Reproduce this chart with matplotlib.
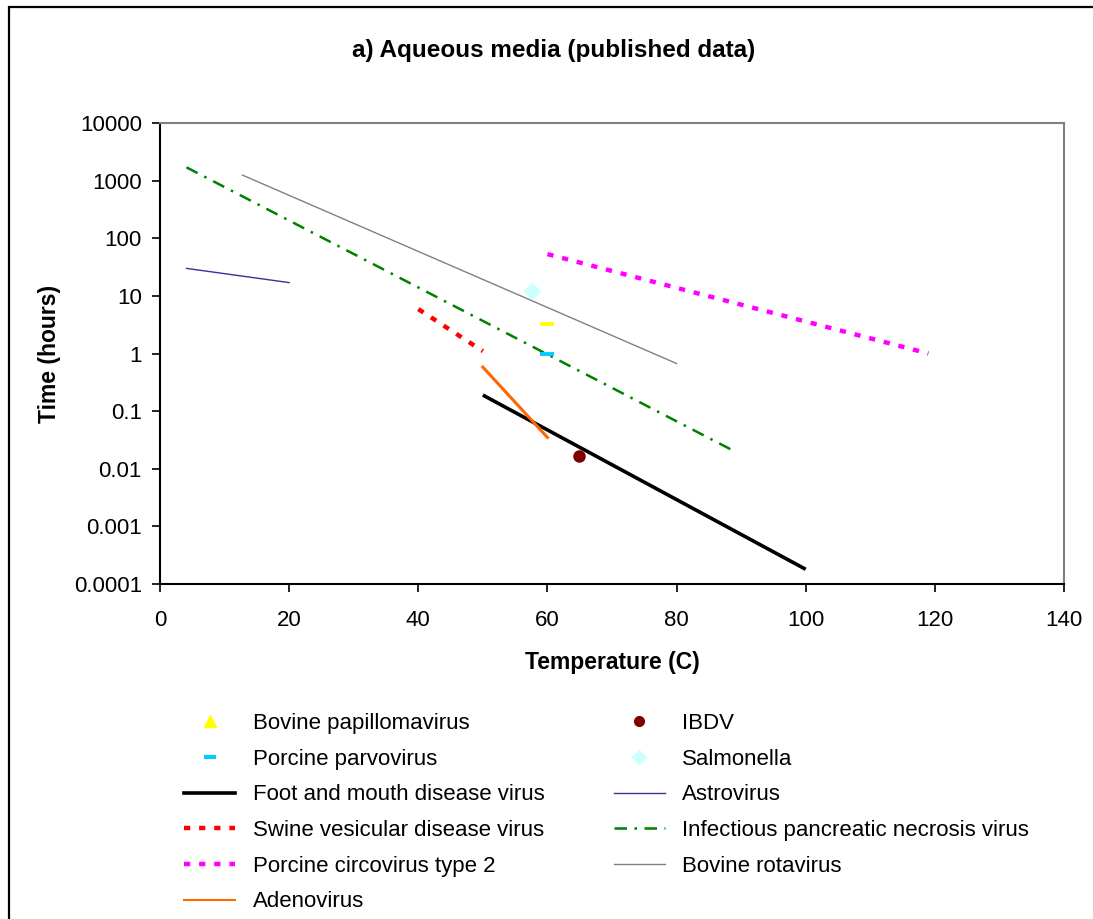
import matplotlib
matplotlib.use("Agg")
import matplotlib.pyplot as plt
from matplotlib.lines import Line2D
from matplotlib.patches import Rectangle
from matplotlib.ticker import FixedLocator, FixedFormatter, NullLocator

plt.rcParams['font.family'] = ['Liberation Sans', 'DejaVu Sans']

# ---- data (temperature C, time hours) ----
fmdv_t = [50, 100]
fmdv_h = [0.19, 0.00018]
astro_t = [4.1, 20]
astro_h = [30, 17]
svdv_t = [40, 50]
svdv_h = [5.9, 1.1]
ipnv_t = [4.1, 89]
ipnv_h = [1700, 0.020]
pcv2_t = [60, 119]
pcv2_h = [53, 1.0]
brv_t = [12.75, 80]
brv_h = [1250, 0.67]
adeno_t = [50, 60]
adeno_h = [0.58, 0.035]
bpv_t = [60]
bpv_h = [3.3]
ppv_t = [60]
ppv_h = [1.0]
salm_t = [57.6]
salm_h = [12.1]
ibdv_t = [64.9]
ibdv_h = [0.0166]

yticks = [0.0001, 0.001, 0.01, 0.1, 1, 10, 100, 1000, 10000]
ytick_labels = ['0.0001', '0.001', '0.01', '0.1', '1', '10', '100', '1000', '10000']
xticks = [0, 20, 40, 60, 80, 100, 120, 140]

FS = 16

fig = plt.figure(figsize=(10.93, 9.19), dpi=100)
ax = fig.add_axes([160/1093, 1-584/919, (1064-160)/1093, (584-123)/919])

c_fmdv, c_astro, c_svdv = 'black', '#333399', '#FF0000'
c_ipnv, c_pcv2, c_brv, c_adeno = '#008000', '#FF00FF', '#808080', '#FF6600'
c_bpv, c_ppv, c_salm, c_ibdv = '#FFFF00', '#00CCFF', '#CCFFFF', '#800000'

ax.plot(fmdv_t, fmdv_h, color=c_fmdv, lw=2.6, solid_capstyle='butt')
ax.plot(astro_t, astro_h, color=c_astro, lw=1.0)
ax.plot(svdv_t, svdv_h, color=c_svdv, lw=3.2, dashes=(1.4, 2.0))
ax.plot(pcv2_t, pcv2_h, color=c_pcv2, lw=3.2, dashes=(1.4, 2.0))
ax.plot(ipnv_t, ipnv_h, color=c_ipnv, lw=1.8, dashes=(5, 3, 1, 3))
ax.plot(brv_t, brv_h, color=c_brv, lw=1.0)
ax.plot(adeno_t, adeno_h, color=c_adeno, lw=2.2)
ax.plot(bpv_t, bpv_h, linestyle='none', marker='_', ms=10, mew=2.8, color=c_bpv)
ax.plot(ppv_t, ppv_h, linestyle='none', marker='_', ms=10, mew=2.8, color=c_ppv)
ax.plot(salm_t, salm_h, linestyle='none', marker='D', ms=8, color=c_salm, mec=c_salm)
ax.plot(ibdv_t, ibdv_h, linestyle='none', marker='o', ms=8, color=c_ibdv, mec=c_ibdv)

ax.set_yscale('log')
ax.set_ylim(0.0001, 10000)
ax.set_xlim(0, 140)
ax.yaxis.set_major_locator(FixedLocator(yticks))
ax.yaxis.set_major_formatter(FixedFormatter(ytick_labels))
ax.yaxis.set_minor_locator(NullLocator())
ax.set_xticks(xticks)
ax.tick_params(axis='both', labelsize=FS, direction='out', length=6, width=1.2)
ax.tick_params(axis='x', pad=13)
ax.tick_params(axis='y', pad=7)
for s in ['top', 'right']:
    ax.spines[s].set_color('#808080')
    ax.spines[s].set_linewidth(1.5)
for s in ['left', 'bottom']:
    ax.spines[s].set_linewidth(1.5)

ax.set_xlabel('Temperature (C)', fontsize=16.5, fontweight='bold', labelpad=14)
ax.set_ylabel('Time (hours)', fontsize=16.5, fontweight='bold', labelpad=9)
fig.text(554/1093, 1-50/919, 'a) Aqueous media (published data)', fontsize=17.5, fontweight='bold',
         ha='center', va='center')

handles = [
    Line2D([], [], linestyle='none', marker='^', ms=8, color=c_bpv),
    Line2D([], [], linestyle='none', marker='_', ms=8, mew=3, color=c_ppv),
    Line2D([], [], color=c_fmdv, lw=2.6),
    Line2D([], [], color=c_svdv, lw=3.2, dashes=(1.4, 2.0)),
    Line2D([], [], color=c_pcv2, lw=3.2, dashes=(1.4, 2.0)),
    Line2D([], [], color=c_adeno, lw=1.5),
    Line2D([], [], linestyle='none', marker='o', ms=7, color=c_ibdv),
    Line2D([], [], linestyle='none', marker='D', ms=7, color=c_salm),
    Line2D([], [], color=c_astro, lw=1.0),
    Line2D([], [], color=c_ipnv, lw=1.8, dashes=(5, 3, 1, 3)),
    Line2D([], [], color=c_brv, lw=1.0),
]
labels = ['Bovine papillomavirus', 'Porcine parvovirus', 'Foot and mouth disease virus',
          'Swine vesicular disease virus', 'Porcine circovirus type 2', 'Adenovirus',
          'IBDV', 'Salmonella', 'Astrovirus', 'Infectious pancreatic necrosis virus',
          'Bovine rotavirus']
fig.legend(handles, labels, ncol=2, frameon=False, fontsize=FS,
           loc='upper left', bbox_to_anchor=(164/1093, 1-693/919),
           handlelength=2.3, handletextpad=0.8, columnspacing=3.1, labelspacing=0.66)

fig.add_artist(Rectangle((9/1093, -0.05), 1.2, 1.05 - 7/919, transform=fig.transFigure,
                         fill=False, edgecolor='black', lw=1.6))

fig.savefig('out.png', dpi=100)
